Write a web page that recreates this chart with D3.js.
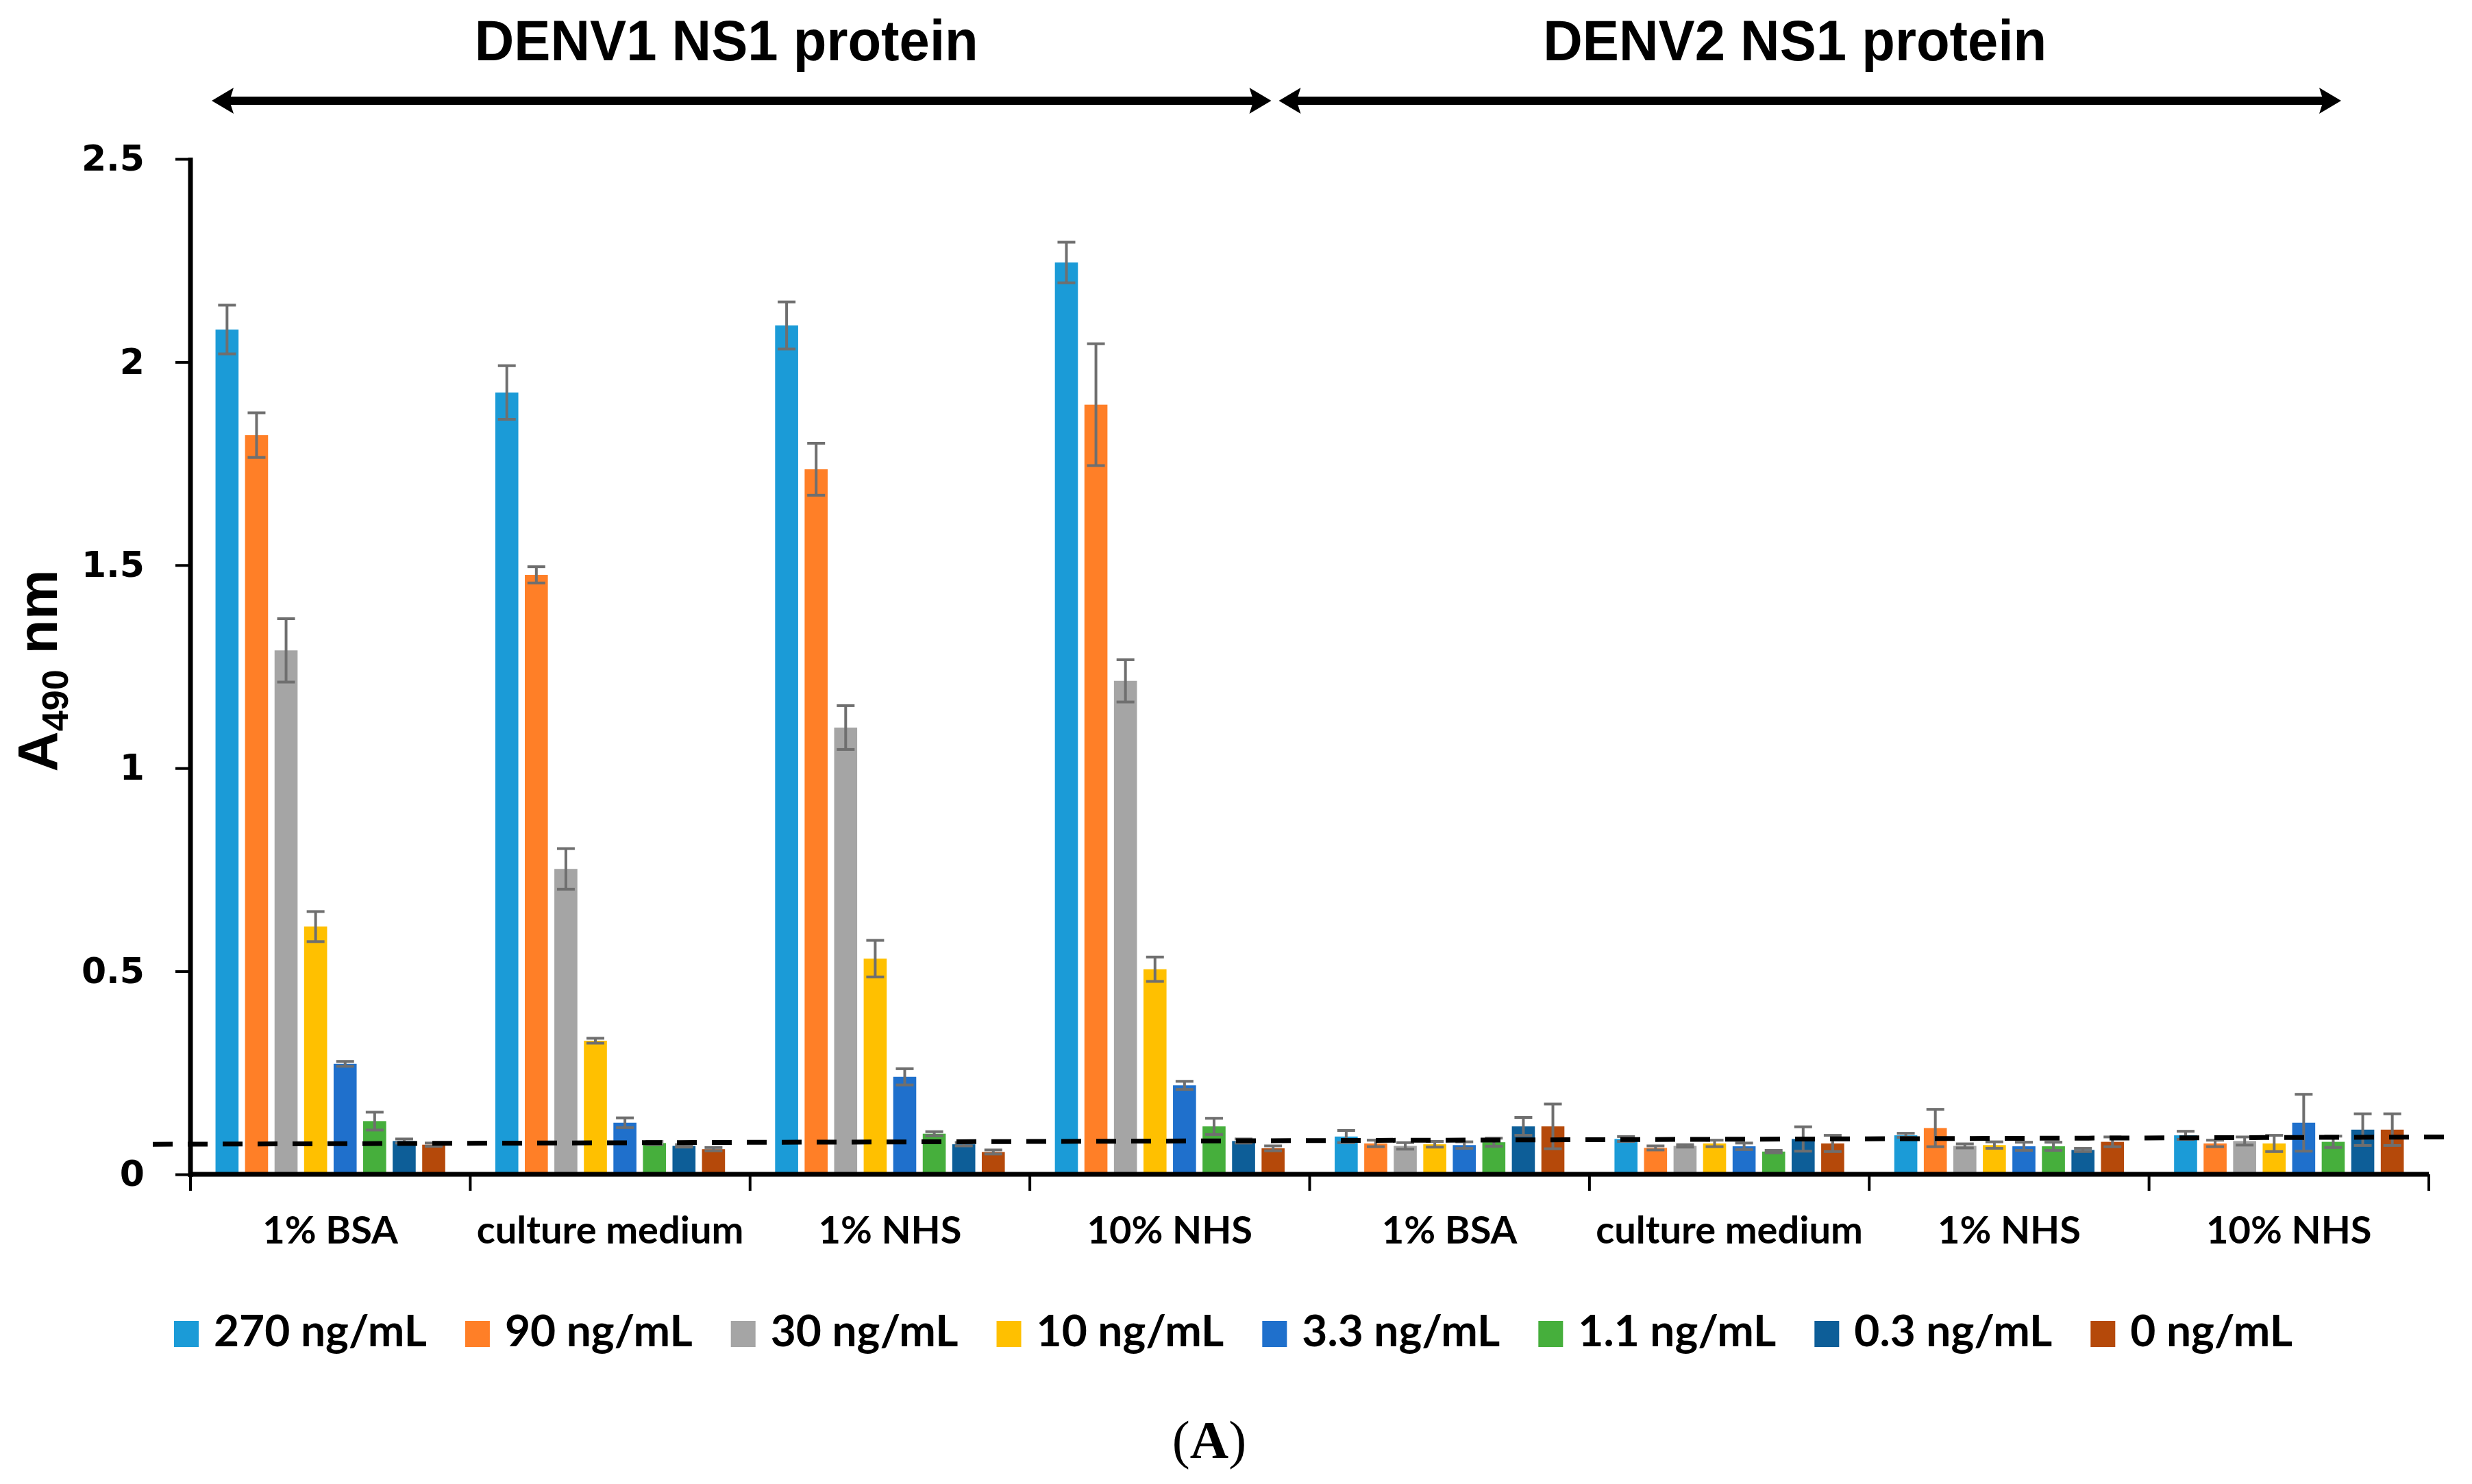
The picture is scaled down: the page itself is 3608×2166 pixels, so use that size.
<!DOCTYPE html>
<html>
<head>
<meta charset="utf-8">
<script src="https://cdn.jsdelivr.net/npm/d3@7"></script>
<style>
  html, body { margin: 0; padding: 0; background: #ffffff; }
  svg { display: block; }
</style>
</head>
<body>
<svg id="chart" width="3608" height="2166"></svg>
<script>
// ---------------- DATA ----------------
const proteins = ["DENV1 NS1 protein", "DENV2 NS1 protein"];
const media = ["1% BSA", "culture medium", "1% NHS", "10% NHS"];
const series = ["270 ng/mL", "90 ng/mL", "30 ng/mL", "10 ng/mL", "3.3 ng/mL", "1.1 ng/mL", "0.3 ng/mL", "0 ng/mL"];
const seriesColors = ["#1B9BD7", "#FF7F27", "#A5A5A5", "#FFC000", "#1F70CC", "#46AF3C", "#0D5E98", "#B5490A"];
const yTicks = [0, 0.5, 1, 1.5, 2, 2.5];

// mean A490 per group (order of series above)
const denv1_BSA     = [2.08, 1.82, 1.29, 0.61, 0.272, 0.131, 0.082, 0.073];
const denv1_culture = [1.925, 1.476, 0.752, 0.329, 0.127, 0.077, 0.070, 0.062];
const denv1_NHS1    = [2.09, 1.736, 1.10, 0.531, 0.240, 0.100, 0.074, 0.055];
const denv1_NHS10   = [2.245, 1.895, 1.215, 0.505, 0.219, 0.118, 0.082, 0.064];
const denv2_BSA     = [0.093, 0.076, 0.070, 0.074, 0.072, 0.079, 0.118, 0.118];
const denv2_culture = [0.087, 0.065, 0.070, 0.076, 0.069, 0.056, 0.087, 0.076];
const denv2_NHS1    = [0.096, 0.114, 0.070, 0.072, 0.069, 0.069, 0.060, 0.080];
const denv2_NHS10   = [0.096, 0.076, 0.082, 0.076, 0.127, 0.080, 0.110, 0.110];

// error (± SD)
const err_denv1_BSA     = [0.060, 0.055, 0.078, 0.037, 0.006, 0.022, 0.005, 0.004];
const err_denv1_culture = [0.066, 0.020, 0.050, 0.006, 0.012, 0.004, 0.003, 0.004];
const err_denv1_NHS1    = [0.058, 0.064, 0.054, 0.045, 0.020, 0.005, 0.004, 0.005];
const err_denv1_NHS10   = [0.050, 0.150, 0.052, 0.030, 0.010, 0.020, 0.005, 0.006];
const err_denv2_BSA     = [0.015, 0.008, 0.008, 0.007, 0.008, 0.010, 0.022, 0.055];
const err_denv2_culture = [0.006, 0.005, 0.003, 0.008, 0.008, 0.003, 0.030, 0.020];
const err_denv2_NHS1    = [0.005, 0.046, 0.005, 0.008, 0.010, 0.010, 0.004, 0.012];
const err_denv2_NHS10   = [0.010, 0.008, 0.010, 0.020, 0.070, 0.014, 0.039, 0.039];

// cut-off line (value at its left end, value at its right end)
const cutoff = [0.074, 0.092];

const groupValues = [denv1_BSA, denv1_culture, denv1_NHS1, denv1_NHS10, denv2_BSA, denv2_culture, denv2_NHS1, denv2_NHS10];
const groupErrors = [err_denv1_BSA, err_denv1_culture, err_denv1_NHS1, err_denv1_NHS10, err_denv2_BSA, err_denv2_culture, err_denv2_NHS1, err_denv2_NHS10];
const groupLabels = groupValues.map((_, i) => media[i % media.length]);

// ---------------- LAYOUT ----------------
const svg = d3.select("#chart");
const plotL = 278, plotR = 3545, plotT = 232, plotB = 1714;

const x0 = d3.scaleBand().domain(d3.range(groupValues.length)).range([plotL, plotR]).padding(0);
const x1 = d3.scaleBand().domain(series).range([0, x0.bandwidth()]).paddingInner(0.22).paddingOuter(0.848);
const y = d3.scaleLinear().domain([0, 2.5]).range([plotB, plotT]);
const color = d3.scaleOrdinal().domain(series).range(seriesColors);

const rows = [];
groupValues.forEach((vals, gi) => {
  vals.forEach((v, si) => rows.push({ g: gi, s: series[si], v: v, e: groupErrors[gi][si] }));
});

// bars
svg.append("g").selectAll("rect").data(rows).join("rect")
  .attr("x", d => x0(d.g) + x1(d.s))
  .attr("y", d => y(d.v))
  .attr("width", x1.bandwidth())
  .attr("height", d => y(0) - y(d.v))
  .attr("fill", d => color(d.s));

// error bars
const eg = svg.append("g").attr("stroke", "#6f6f6f").attr("stroke-width", 4);
const capW = 13;
rows.forEach(d => {
  const cx = x0(d.g) + x1(d.s) + x1.bandwidth() / 2;
  const y1 = y(d.v + d.e), y2 = y(Math.max(0, d.v - d.e));
  eg.append("line").attr("x1", cx).attr("x2", cx).attr("y1", y1).attr("y2", y2);
  eg.append("line").attr("x1", cx - capW).attr("x2", cx + capW).attr("y1", y1).attr("y2", y1);
  eg.append("line").attr("x1", cx - capW).attr("x2", cx + capW).attr("y1", y2).attr("y2", y2);
});

// dashed cut-off line
svg.append("line")
  .attr("x1", plotL - 55).attr("x2", plotR + 32)
  .attr("y1", y(cutoff[0])).attr("y2", y(cutoff[1]))
  .attr("stroke", "#000").attr("stroke-width", 7)
  .attr("stroke-dasharray", "29,22");

// Y axis
const yAxis = d3.axisLeft(y).tickValues(yTicks).tickFormat(d => String(d))
  .tickSizeInner(22).tickSizeOuter(0).tickPadding(45);
const yg = svg.append("g").attr("transform", `translate(${plotL},0)`).call(yAxis);
yg.select(".domain").remove();
yg.selectAll(".tick line").attr("stroke", "#000").attr("stroke-width", 4);
yg.selectAll(".tick text")
  .attr("font-family", "'DejaVu Sans', Verdana, sans-serif")
  .attr("font-weight", "bold").attr("font-size", 52).attr("fill", "#000");
svg.append("line").attr("x1", plotL).attr("x2", plotL).attr("y1", plotT - 2).attr("y2", plotB + 4)
  .attr("stroke", "#000").attr("stroke-width", 7);

// X axis
svg.append("line").attr("x1", plotL - 3).attr("x2", plotR).attr("y1", plotB).attr("y2", plotB)
  .attr("stroke", "#000").attr("stroke-width", 7);
const bounds = x0.domain().map(g => x0(g)).concat([x0(x0.domain().length - 1) + x0.bandwidth()]);
svg.append("g").selectAll("line").data(bounds).join("line")
  .attr("x1", d => d).attr("x2", d => d).attr("y1", plotB).attr("y2", plotB + 24)
  .attr("stroke", "#000").attr("stroke-width", 4);
svg.append("g").selectAll("text").data(x0.domain()).join("text")
  .attr("x", g => x0(g) + x0.bandwidth() / 2)
  .attr("y", 1815)
  .attr("text-anchor", "middle")
  .attr("font-family", "Lato, 'Open Sans', sans-serif")
  .attr("font-weight", "bold").attr("font-size", 56).attr("fill", "#000")
  .text(g => groupLabels[g]);

// Y axis title
const yt = svg.append("text")
  .attr("transform", `translate(83, ${(plotT + plotB) / 2 + 6}) rotate(-90)`)
  .attr("text-anchor", "middle")
  .attr("font-family", "'Liberation Sans', Arial, sans-serif")
  .attr("font-weight", "bold").attr("font-size", 82).attr("fill", "#000");
yt.append("tspan").text("A");
yt.append("tspan").attr("font-size", 54).attr("dy", 16).text("490");
yt.append("tspan").attr("dy", -16).text(" nm");

// Top protein headers with double arrows
const arrowSpans = [
  { x1: x0(0) + 31, x2: x0(3) + x0.bandwidth() - 56 },
  { x1: x0(4) - 45, x2: x0(7) + x0.bandwidth() - 128 }
];
const arrowY = 147;
arrowSpans.forEach((a, i) => {
  svg.append("line").attr("x1", a.x1 + 20).attr("x2", a.x2 - 20)
    .attr("y1", arrowY).attr("y2", arrowY).attr("stroke", "#000").attr("stroke-width", 12);
  const head = (tx, dir) => `M${tx},${arrowY} L${tx + dir * 32},${arrowY - 19} L${tx + dir * 26},${arrowY} L${tx + dir * 32},${arrowY + 19} Z`;
  svg.append("path").attr("d", head(a.x1, 1)).attr("fill", "#000");
  svg.append("path").attr("d", head(a.x2, -1)).attr("fill", "#000");
  svg.append("text")
    .attr("x", (a.x1 + a.x2) / 2 - 22).attr("y", 88)
    .attr("text-anchor", "middle")
    .attr("font-family", "'Liberation Sans', Arial, sans-serif")
    .attr("font-weight", "bold").attr("font-size", 84).attr("fill", "#000")
    .attr("textLength", 735).attr("lengthAdjust", "spacingAndGlyphs")
    .text(proteins[i]);
});

// Legend
const lg = svg.append("g");
const items = series.map((s, i) => {
  const g = lg.append("g");
  g.append("rect").attr("x", 0).attr("y", 1928).attr("width", 36).attr("height", 38).attr("fill", color(s));
  const t = g.append("text").attr("x", 58).attr("y", 1965)
    .attr("font-family", "Lato, 'Open Sans', sans-serif")
    .attr("font-weight", "bold").attr("font-size", 64).attr("fill", "#000").text(s);
  return { g, w: 58 + t.node().getComputedTextLength() };
});
const gap = 56;
const total = d3.sum(items, d => d.w) + gap * (items.length - 1);
let lx = 1800 - total / 2;
items.forEach(it => { it.g.attr("transform", `translate(${lx},0)`); lx += it.w + gap; });

// Panel label
svg.append("text").attr("x", 1765).attr("y", 2128).attr("text-anchor", "middle")
  .attr("font-family", "'Liberation Serif', 'Times New Roman', serif")
  .attr("font-size", 78).attr("fill", "#000")
  .html('(<tspan font-weight="bold">A</tspan>)');
</script>
</body>
</html>
